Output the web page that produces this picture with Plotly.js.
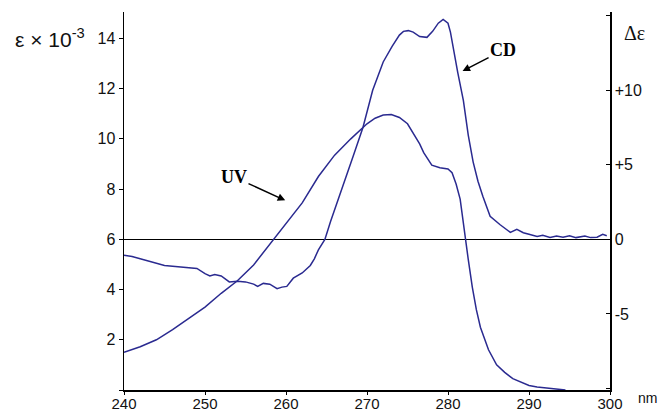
<!DOCTYPE html>
<html><head><meta charset="utf-8">
<script src="https://cdn.plot.ly/plotly-3.0.1.min.js"></script>
<style>html,body{margin:0;padding:0;background:#fff;}#chart{width:662px;height:411px;}</style>
</head><body><div id="chart"></div>
<script>
// UV spectrum: wavelength (nm) and epsilon x 10^-3
const uvWavelength = [240,242,244,246,248,250,252,254,256,258,260,262,264,266,268,269,270,271,272,273,274,275,276,276.5,277,278,279,280,280.5,281,281.5,282,282.5,283,283.5,284,285,286,287,288,289,290,291,292,293,294.5];
const uvEpsilon    = [1.5,1.72,2.0,2.4,2.85,3.3,3.85,4.35,4.98,5.8,6.6,7.45,8.5,9.35,10.0,10.3,10.6,10.82,10.95,10.97,10.85,10.6,10.1,9.8,9.45,8.95,8.85,8.8,8.65,8.2,7.6,6.3,5.2,4.1,3.2,2.5,1.6,1.0,0.7,0.45,0.3,0.18,0.12,0.08,0.04,0.0];

// CD spectrum: wavelength (nm) and delta epsilon
const cdWavelength = [240,241,242,243,244,245,246,247,248,249,250,250.6,251.2,252,253,254,255,256,256.5,257.2,258,258.9,259.5,260.1,260.9,262,263,263.5,264,264.8,265.5,266.7,267.5,268.3,269.5,270.7,272,273.1,274,274.5,275.1,275.7,276.5,277.4,278.1,278.8,279.4,280,280.3,280.6,281.2,281.9,282.5,283.1,283.7,284.3,285.2,286.4,287.7,288.5,289.3,290,291,291.7,292.6,293.4,294.2,295,295.8,296.9,297.6,298.4,299.1,299.6];
const cdDelta      = [-1.07,-1.15,-1.3,-1.45,-1.55,-1.75,-1.8,-1.85,-1.85,-1.95,-2.3,-2.45,-2.35,-2.45,-2.85,-2.8,-2.85,-3.0,-3.15,-2.95,-3.0,-3.3,-3.2,-3.15,-2.6,-2.25,-1.75,-1.3,-0.7,0,1.2,3.15,4.4,5.6,7.5,10.0,11.9,12.95,13.7,13.95,14.0,13.9,13.6,13.55,13.95,14.5,14.75,14.5,13.9,12.95,11.2,9.3,7.0,5.2,3.9,2.9,1.55,1.0,0.47,0.67,0.45,0.35,0.2,0.27,0.13,0.22,0.15,0.25,0.12,0.22,0.12,0.15,0.34,0.25];

// Tick labels
const xTicks = [240,250,260,270,280,290,300];
const yTicks = [0,2,4,6,8,10,12,14];
const yTickText = ['','2','4','6','8','10','12','14'];
const y2Ticks = [-10,-5,0,5,10,15];
const y2TickText = ['','-5','0','+5','+10',''];

const lineColor = '#2a2a90';
const tickFont = {family:'Liberation Sans, Arial, sans-serif', size:16, color:'#111'};

const traces = [
  {x: uvWavelength, y: uvEpsilon, type:'scatter', mode:'lines', line:{color:lineColor, width:1.5}, yaxis:'y', hoverinfo:'skip'},
  {x: cdWavelength, y: cdDelta, type:'scatter', mode:'lines', line:{color:lineColor, width:1.5}, yaxis:'y2', hoverinfo:'skip'}
];

const layout = {
  width:662, height:411,
  margin:{l:124, r:52, t:12, b:21},
  paper_bgcolor:'#fff', plot_bgcolor:'#fff',
  showlegend:false,
  font: tickFont,
  xaxis:{range:[240,300], tickvals:xTicks, ticks:'outside', ticklen:3, tickcolor:'#000', ticklabelstandoff:-4,
         showline:true, linecolor:'#000', linewidth:1.5, showgrid:false, zeroline:false,
         tickfont:{family:'Liberation Sans, Arial, sans-serif', size:15, color:'#111'}},
  yaxis:{range:[0,15.05], tickvals:yTicks, ticktext:yTickText, ticks:'outside', ticklen:4, tickcolor:'#000',
         showline:true, linecolor:'#000', linewidth:1.5, showgrid:false, zeroline:false, tickfont:tickFont},
  yaxis2:{range:[-10.1,15.25], overlaying:'y', side:'right', tickvals:y2Ticks, ticktext:y2TickText,
          ticks:'inside', ticklen:4, tickcolor:'#000', showline:true, linecolor:'#000', linewidth:1.5,
          showgrid:false, zeroline:true, zerolinecolor:'#000', zerolinewidth:1.5, tickfont:tickFont},
  annotations:[
    {xref:'paper', yref:'paper', x:-0.228, y:0.93, xanchor:'left', yanchor:'middle', showarrow:false,
     text:'ε × 10<sup>-3</sup>', font:{family:'Liberation Sans, Arial, sans-serif', size:21, color:'#111'}},
    {xref:'paper', yref:'paper', x:1.025, y:0.945, xanchor:'left', yanchor:'middle', showarrow:false,
     text:'Δε', font:{family:'Liberation Serif, Times New Roman, serif', size:20, color:'#111'}},
    {xref:'paper', yref:'paper', x:1.1, y:-0.02, xanchor:'right', yanchor:'middle', showarrow:false,
     text:'nm', font:{family:'Liberation Sans, Arial, sans-serif', size:14, color:'#111'}},
    {xref:'x', yref:'y', x:281.8, y:12.7, axref:'x', ayref:'y', ax:286.8, ay:13.53, text:'<b>CD</b>', showarrow:true,
     arrowhead:2, arrowsize:1, arrowwidth:1.5, arrowcolor:'#000',
     font:{family:'Liberation Serif, Times New Roman, serif', size:18, color:'#000'}},
    {xref:'x', yref:'y', x:259.9, y:7.55, axref:'x', ayref:'y', ax:253.58, ay:8.48, text:'<b>UV</b>', showarrow:true,
     arrowhead:2, arrowsize:1, arrowwidth:1.5, arrowcolor:'#000',
     font:{family:'Liberation Serif, Times New Roman, serif', size:18, color:'#000'}}
  ]
};

Plotly.newPlot('chart', traces, layout, {displayModeBar:false, staticPlot:true});
</script></body></html>
